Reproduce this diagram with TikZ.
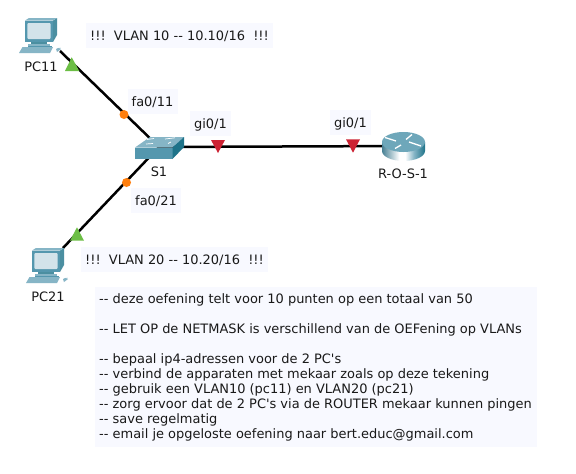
\documentclass[tikz,border=0pt]{standalone}
\usepackage{fontspec}
\newfontfamily\djv{DejaVu Sans}
\usetikzlibrary{calc}
\definecolor{boxfill}{HTML}{F8F9FF}
\definecolor{tealA}{HTML}{5497AE}
\definecolor{tealB}{HTML}{1E7389}
\definecolor{tealC}{HTML}{86B5C6}
\definecolor{screenC}{HTML}{D3E3EA}
\definecolor{linkgreen}{HTML}{6CBE45}
\definecolor{linkred}{HTML}{CC2233}
\definecolor{linkorange}{HTML}{FF7F0E}
\pgfdeclarehorizontalshading{routerbody}{100bp}{
  color(0bp)=(tealA!85!black); color(25bp)=(tealA!85!black); color(45bp)=(white); color(52bp)=(white);
  color(62bp)=(tealC); color(75bp)=(tealB); color(100bp)=(tealB)}
\tikzset{
  x=1pt,y=-1pt,
  txt/.style={font=\djv\fontsize{12.96pt}{15pt}\selectfont,text=black!90,inner sep=0pt},
  lab/.style={txt,fill=boxfill,minimum width=#1,minimum height=25pt,text height=9.5pt,text depth=0pt},
  link/.style={line width=2.5pt,black},
  upmark/.style={fill=linkgreen,draw=none},
  downmark/.style={fill=linkred,draw=none},
  dot/.style={fill=linkorange,draw=none,circle,minimum size=9pt,inner sep=0pt},
  pcicon/.pic={
    % rear side of monitor
    \fill[tealB!80!white] (53,-7.5) -- (57,-10) -- (57,7) -- (53,14) -- cycle;
    % monitor frame
    \fill[tealA] (25,-7.5) rectangle (53,14);
    \fill[tealC] (25,-7.5) -- (29,-10) -- (57,-10) -- (53,-7.5) -- cycle;
    \fill[screenC,rounded corners=1pt] (27.3,-5) rectangle (50.7,11);
    % base
    \fill[tealB!80!white] (31,14) rectangle (47,15.5);
    \fill[tealC] (28,15.5) rectangle (50,17.5);
    \fill[tealA] (28,17.5) rectangle (52,19);
    % keyboard
    \fill[tealC] (22.5,19) -- (53,19) -- (50,25) -- (19,25) -- cycle;
    % mouse and cord
    \fill[tealC] (56,21) -- (60,19) -- (61,21) -- (57,24) -- cycle;
    \draw[white,line width=.8pt] (55,16) .. controls (60,14) and (66,16) .. (63,19) .. controls (62,21) and (59,20) .. (58,19);
  },
}
\begin{document}
\begin{tikzpicture}
\useasboundingbox (0,0) rectangle (576,474);
\fill[white] (0,0) rectangle (576,474);

% anchor points of the devices
\coordinate (pc11) at (60,51);
\coordinate (pc21) at (63,248);
\coordinate (s1) at (159,147);
\coordinate (r1) at (404,146);

% connectors
\draw[link] (pc11) -- (s1);
\draw[link] (pc21) -- (s1);
\draw[link] (s1) -- (r1);

% PCs
\pic at (0,28) {pcicon};
\pic at (7,258) {pcicon};

% switch
\fill[tealC] (135,147.5) -- (150,137) -- (184,137) -- (172.5,147.5) -- cycle;
\fill[tealA] (135,147.5) rectangle (172.5,159);
\fill[tealB] (172.5,147.5) -- (184,137) -- (184,147) -- (172.5,159) -- cycle;
\draw[white,line width=.7pt] (147,139.5) -- (154,138.5) (165,139) -- (175,137.8) (146,144) -- (153,143.5) (168,143.5) -- (171,142);

% router
\shade[shading=routerbody] (382,142) -- (382,151) arc[start angle=180,end angle=360,x radius=21.5pt,y radius=10pt] -- (425,142) -- cycle;
\fill[tealA!85!white] (403.5,142) ellipse[x radius=21.5pt,y radius=10pt];
\draw[white,line width=1.3pt] (385,137.5) -- (396,141) (395,148.5) -- (401,145) (406,139.5) -- (412,134.5) (409,142) -- (421,146);

% markers
\fill[upmark] (71.7,57.3) -- (79.3,71) -- (65,71) -- cycle;
\fill[upmark] (77,227.3) -- (84,240.7) -- (70,240.7) -- cycle;
\fill[downmark] (211,140) -- (225,140) -- (218,153) -- cycle;
\fill[downmark] (346,139.3) -- (360,139.3) -- (353,152.7) -- cycle;
\node[dot] (d11) at (124,114.5) {};
\node[dot] (d21) at (126.5,182.5) {};

% device names
\node[txt] (npc11) at (41,66.5) {PC11};
\node[txt] (npc21) at (48,296.5) {PC21};
\node[txt] (ns1) at (159,171.5) {S1};
\node[txt] (nr1) at (403,174) {R-O-S-1};

% labels
\node[lab=187pt] (v10) at (179.5,35.5) {!!!\ \ VLAN 10 -- 10.10/16\ \ !!!};
\node[lab=187pt] (v20) at (174.5,259.5) {!!!\ \ VLAN 20 -- 10.20/16\ \ !!!};
\node[lab=50pt] (f11) at (152.5,101.5) {fa0/11};
\node[lab=50pt] (f21) at (156,200.5) {fa0/21};
\node[lab=41pt] (g1) at (210.5,123.5) {gi0/1};
\node[lab=41pt] (g2) at (350.5,122.5) {gi0/1};

% notes
\fill[boxfill] (95,287) rectangle (537,447);
\node[txt,anchor=north west,align=left] (notes) at (99,293.5) {%
-- deze oefening telt voor 10 punten op een totaal van 50\\[15pt]
-- LET OP de NETMASK is verschillend van de OEFening op VLANs\\[15pt]
-- bepaal ip4-adressen voor de 2 PC's\\
-- verbind de apparaten met mekaar zoals op deze tekening\\
-- gebruik een VLAN10 (pc11) en VLAN20 (pc21)\\
-- zorg ervoor dat de 2 PC's via de ROUTER mekaar kunnen pingen\\
-- save regelmatig\\
-- email je opgeloste oefening naar bert.educ@gmail.com};
\end{tikzpicture}
\end{document}
